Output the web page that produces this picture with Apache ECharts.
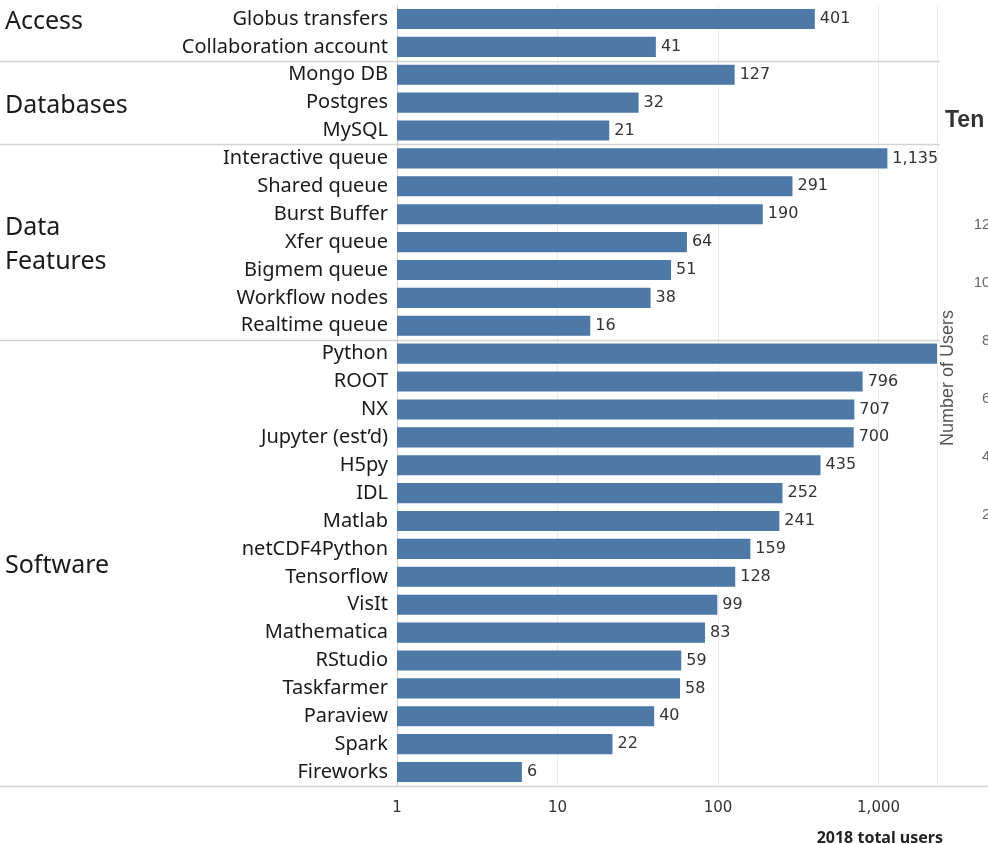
<!DOCTYPE html>
<html lang="en">
<head>
    <meta charset="UTF-8">
    <title>2018 total users</title>
    <script src="https://cdn.jsdelivr.net/npm/echarts@6/dist/echarts.min.js"></script>
    <style>
        *{
            margin: 0;
            padding: 0;
        }
        html,body{
            width: 100%;
            height: 100%;
            background: #fff;
        }
        .container{
            width: 988px;
            height: 844px;
        }
    </style>
</head>
<body>
<div class="container"></div>
<script>
    // groups on the left, with how many rows each one has
    const groups = ['Access', 'Databases', 'Data\nFeatures', 'Software'];
    const groupSizes = [2, 3, 7, 16];
    // row (inside the group) the group label sits on
    const groupLabelRow = [0, 1, 3, 7.5];

    const tools = [
        'Globus transfers', 'Collaboration account',
        'Mongo DB', 'Postgres', 'MySQL',
        'Interactive queue', 'Shared queue', 'Burst Buffer', 'Xfer queue', 'Bigmem queue', 'Workflow nodes', 'Realtime queue',
        'Python', 'ROOT', 'NX', 'Jupyter (est\u2019d)', 'H5py', 'IDL', 'Matlab', 'netCDF4Python', 'Tensorflow',
        'VisIt', 'Mathematica', 'RStudio', 'Taskfarmer', 'Paraview', 'Spark', 'Fireworks'
    ];
    const users = [
        401, 41,
        127, 32, 21,
        1135, 291, 190, 64, 51, 38, 16,
        2500, 796, 707, 700, 435, 252, 241, 159, 128,
        99, 83, 59, 58, 40, 22, 6
    ];
    const xTicks = [1, 10, 100, 1000];
    const xMax = 2313;   // the picture is cut here

    // neighbouring chart, only its left edge is visible
    const sideTitle = 'Ten';
    const sideMax = 1400;
    const sideStep = 200;

    let container = document.querySelector('.container');
    let chart = echarts.init(container);

    let option = {
        animation: false,
        title: [{
            text: '2018 total users',
            right: 40,
            top: 825,
            textStyle: {fontFamily: 'Noto Sans', fontWeight: 'bold', fontSize: 16, color: '#222'}
        }, {
            text: sideTitle,
            left: 940,
            top: 104,
            textStyle: {fontFamily: 'Liberation Sans', fontWeight: 'bold', fontSize: 23, color: '#333'}
        }],
        grid: [
            {left: 397, top: 5, width: 540, height: 781},
            {left: 1015, top: 167, width: 200, height: 406}
        ],
        xAxis: [{
            type: 'log',
            gridIndex: 0,
            min: 1,
            max: xMax,
            axisLine: {show: false},
            axisTick: {show: false},
            splitLine: {lineStyle: {color: '#ececec'}},
            axisLabel: {
                margin: 15,
                color: '#333',
                fontFamily: 'DejaVu Sans',
                fontSize: 15,
                formatter: function (v) {
                    let r = Math.round(v);
                    return xTicks.includes(r) ? r.toLocaleString('en-US') : '';
                }
            }
        }, {
            type: 'value',
            gridIndex: 1,
            show: false
        }],
        yAxis: [{
            type: 'category',
            gridIndex: 0,
            data: tools,
            inverse: true,
            axisLine: {lineStyle: {color: '#cfcfcf', width: 1}},
            axisTick: {show: false},
            axisLabel: {margin: 9, fontSize: 20, color: '#1a1a1a', fontFamily: 'Noto Sans'}
        }, {
            type: 'value',
            gridIndex: 1,
            min: 0,
            max: sideMax,
            interval: sideStep,
            name: 'Number of Users',
            nameLocation: 'middle',
            nameGap: 58,
            nameTextStyle: {fontFamily: 'Liberation Sans', fontSize: 18, color: '#555', padding: [0, 16, 0, 0]},
            axisLine: {show: false},
            axisTick: {show: false},
            splitLine: {show: false},
            axisLabel: {
                margin: 8,
                fontFamily: 'Liberation Sans',
                fontSize: 15,
                color: '#666',
                formatter: v => (v === 0 || v === sideMax) ? '' : String(v)
            }
        }],
        series: [{
            type: 'bar',
            xAxisIndex: 0,
            yAxisIndex: 0,
            barCategoryGap: '28%',
            itemStyle: {color: '#4e79a7'},
            label: {
                show: true,
                position: 'right',
                distance: 5,
                color: '#333',
                fontFamily: 'DejaVu Sans',
                fontSize: 16,
                formatter: p => p.value.toLocaleString('en-US')
            },
            data: users.map(v => v > xMax ? {value: v, label: {show: false}} : v)
        }, {
            type: 'line',
            xAxisIndex: 1,
            yAxisIndex: 1,
            data: []
        }]
    };
    chart.setOption(option);

    // group labels and separators, placed from the category axis
    let y0 = chart.convertToPixel({yAxisIndex: 0}, tools[0]);
    let step = chart.convertToPixel({yAxisIndex: 0}, tools[1]) - y0;
    let rowY = i => y0 + i * step;

    let graphic = [];
    let start = 0;
    groups.forEach((g, gi) => {
        graphic.push({
            type: 'text',
            left: 5,
            top: rowY(start + groupLabelRow[gi]) - (g.includes('\n') ? 31 : 14),
            style: {
                text: g,
                fontFamily: 'Noto Sans',
                fontSize: 25,
                lineHeight: 34,
                fill: '#1a1a1a'
            }
        });
        start += groupSizes[gi];
        let yLine = Math.round(rowY(start - 1) + step / 2) + 0.5;
        graphic.push({
            type: 'line',
            shape: {x1: 0, y1: yLine, x2: gi === groups.length - 1 ? 988 : 940, y2: yLine},
            style: {stroke: '#d3d3d3', lineWidth: 1.5}
        });
    });
    chart.setOption({graphic});
</script>
</body>
</html>
